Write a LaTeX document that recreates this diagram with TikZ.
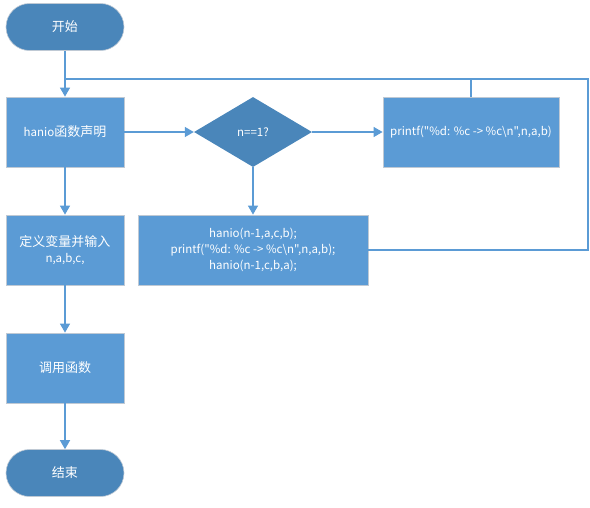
\documentclass[tikz,border=0pt]{standalone}
\usepackage{fontspec}
\newfontfamily\cjk{Noto Sans CJK SC}
\usetikzlibrary{positioning,arrows.meta,shapes.geometric}
\definecolor{boxblue}{HTML}{5B9BD5}
\definecolor{darkblue}{HTML}{4A86BA}
\definecolor{edgegray}{HTML}{BFC9D4}
\newcommand{\zh}[1]{{\fontsize{13}{16}\selectfont #1}}

\begin{document}
\begin{tikzpicture}[x=1pt,y=-1pt,
    every node/.style={font=\cjk\fontsize{11.5}{16}\selectfont,text=white,align=center,inner sep=0pt},
    procbox/.style={draw=edgegray,fill=boxblue,line width=0.8pt,minimum height=70pt},
    terminal/.style={draw=edgegray,fill=darkblue,line width=0.6pt,rounded corners=23.5pt,minimum width=118pt,minimum height=47pt},
    decision/.style={diamond,fill=darkblue,aspect=1.69,minimum width=118pt,minimum height=70pt},
    flowline/.style={draw=boxblue,line width=1.3pt},
    flowarrow/.style={flowline,-{Triangle[length=9pt,width=10pt]}}]
        \useasboundingbox (0,0) rectangle (590,507);
        % left column
        \node[terminal] (start) at (65,27) {\zh{开始}};
        \node[procbox,minimum width=118pt] (decl) at (65,132) {hanio\zh{函数声明}};
        \node[procbox,minimum width=118pt] (input) at (65,250) {\zh{定义变量并输入}\\n,a,b,c,};
        \node[procbox,minimum width=118pt] (call) at (65,368) {\zh{调用函数}};
        \node[terminal] (stop) at (65,473) {\zh{结束}};
        % recursion part
        \node[decision] (test) at (253,132) {n==1?};
        \node[procbox,minimum width=176pt] (move) at (471,132) {printf("\%d: \%c -> \%c\textbackslash n",n,a,b)};
        \node[procbox,minimum width=230pt] (recur) at (253,250) {hanio(n-1,a,c,b);\\printf("\%d: \%c -> \%c\textbackslash n",n,a,b);\\hanio(n-1,c,b,a);};
        \coordinate (join) at (65,79);
        \coordinate (turn) at (588,79);
        % connectors
        \draw[flowarrow] (start) -- (decl);
        \draw[flowarrow] (decl) -- (input);
        \draw[flowarrow] (input) -- (call);
        \draw[flowarrow] (call) -- (stop);
        \draw[flowarrow] (decl) -- (test);
        \draw[flowarrow] (test) -- (move);
        \draw[flowarrow] (test) -- (recur);
        \draw[flowline] (recur.east) -| (turn) -- (join);
        \draw[flowline] (move.north) -- (move.north |- join);
    \end{tikzpicture}
\end{document}
